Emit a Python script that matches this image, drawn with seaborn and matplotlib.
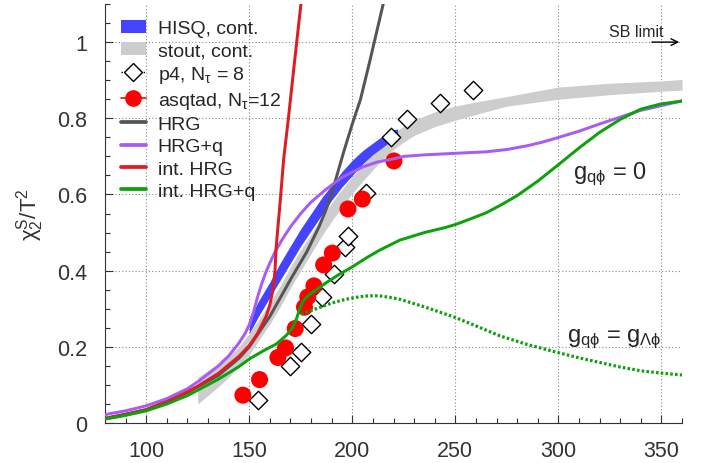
import matplotlib
matplotlib.use("Agg")
import matplotlib.pyplot as plt
import seaborn as sns
import pandas as pd
from matplotlib.lines import Line2D
from matplotlib.patches import Patch
from matplotlib.ticker import MultipleLocator

# ---------------- data ----------------
hisq_T  = [150, 155, 160, 165, 170, 175, 180, 185, 190, 195, 200, 205, 210, 215, 220, 222]
hisq_lo = [0.235, 0.285, 0.33, 0.375, 0.42, 0.465, 0.505, 0.545, 0.585, 0.62, 0.65, 0.68, 0.705, 0.725, 0.745, 0.752]
hisq_hi = [0.275, 0.325, 0.37, 0.42, 0.465, 0.51, 0.55, 0.59, 0.625, 0.66, 0.69, 0.715, 0.735, 0.755, 0.77, 0.772]

stout_T  = [125, 135, 140, 145, 150, 155, 160, 165, 170, 175, 180, 185, 190, 195, 200, 205, 210,
            215, 220, 225, 230, 240, 250, 260, 275, 300, 325, 350, 360]
stout_lo = [0.05, 0.095, 0.12, 0.15, 0.18, 0.22, 0.26, 0.305, 0.355, 0.40, 0.445, 0.49, 0.53, 0.568,
            0.603, 0.635, 0.665, 0.693, 0.718, 0.738, 0.755, 0.778, 0.795, 0.81, 0.832, 0.85, 0.862, 0.871, 0.874]
stout_hi = [0.12, 0.155, 0.175, 0.20, 0.235, 0.275, 0.315, 0.36, 0.41, 0.455, 0.495, 0.54, 0.578, 0.613,
            0.647, 0.678, 0.707, 0.735, 0.76, 0.78, 0.795, 0.817, 0.832, 0.843, 0.857, 0.882, 0.892, 0.898, 0.902]

p4_T = [154.2, 169.6, 174.9, 179.8, 185.4, 191.0, 196.3, 197.9, 206.5, 218.9, 226.7, 242.7, 258.5]
p4_v = [0.061, 0.149, 0.186, 0.26, 0.33, 0.39, 0.461, 0.49, 0.605, 0.75, 0.798, 0.84, 0.874]

asq_T = [146.9, 155.0, 163.9, 167.6, 172.3, 176.8, 178.4, 181.4, 186.1, 190.3, 197.9, 204.9, 220.2]
asq_v = [0.073, 0.114, 0.172, 0.197, 0.248, 0.304, 0.331, 0.36, 0.415, 0.446, 0.562, 0.588, 0.688]

hrg_T = [80, 100, 120, 135, 145, 150, 160, 171, 178, 184, 188, 192, 196, 200, 204, 208.5, 215]
hrg_v = [0.012, 0.035, 0.08, 0.125, 0.17, 0.2, 0.28, 0.386, 0.45, 0.517, 0.57, 0.64, 0.715, 0.785,
         0.85, 0.95, 1.1]

hrgq_T = [80, 90, 100, 110, 120, 126, 135, 140, 145, 148, 150, 152, 154, 156, 158, 160, 162.3, 166, 170,
          175, 180, 187.4, 195, 205, 212, 219.7, 225, 235, 250, 265, 275, 285, 292, 299, 310, 320, 330,
          339.4, 350, 360]
hrgq_v = [0.022, 0.032, 0.045, 0.064, 0.09, 0.112, 0.15, 0.176, 0.21, 0.235, 0.258, 0.29, 0.33, 0.365,
          0.395, 0.42, 0.447, 0.482, 0.515, 0.55, 0.58, 0.614, 0.645, 0.672, 0.685, 0.693, 0.70, 0.704,
          0.708, 0.712, 0.718, 0.728, 0.737, 0.748, 0.766, 0.785, 0.803, 0.82, 0.833, 0.846]

ihrg_T = [80, 90, 100, 110, 120, 126, 135, 145, 150, 154, 158.2, 160, 161.5, 162.5, 163, 164, 165, 166.7,
          169, 172, 175.5]
ihrg_v = [0.012, 0.022, 0.035, 0.055, 0.082, 0.1, 0.13, 0.175, 0.203, 0.235, 0.28, 0.31, 0.35, 0.40,
          0.457, 0.52, 0.58, 0.693, 0.80, 0.95, 1.12]

ihrgq_T = [80, 90, 100, 110, 120, 126, 135, 145, 150, 157, 163, 168, 171, 173, 174.5, 176, 178, 182, 187,
           193, 200, 207, 213, 223, 235, 245, 250, 257, 265, 272, 280, 290, 300, 310, 320, 330, 340, 350, 360]
ihrgq_v = [0.010, 0.02, 0.032, 0.05, 0.072, 0.089, 0.115, 0.148, 0.168, 0.19, 0.207, 0.23, 0.25, 0.275,
           0.30, 0.318, 0.332, 0.348, 0.367, 0.388, 0.41, 0.434, 0.453, 0.48, 0.5, 0.513, 0.521, 0.535,
           0.552, 0.572, 0.597, 0.635, 0.678, 0.722, 0.763, 0.797, 0.824, 0.838, 0.845]

gl_T = [175.2, 180, 184, 190, 197, 203, 208, 213, 218, 223, 235, 250, 260, 271.5, 285, 299, 310, 320,
        330, 340, 350, 360]
gl_v = [0.285, 0.295, 0.303, 0.315, 0.325, 0.331, 0.334, 0.334, 0.33, 0.325, 0.305, 0.277, 0.255, 0.229,
        0.206, 0.186, 0.171, 0.159, 0.147, 0.137, 0.131, 0.126]

x_ticks = [100, 150, 200, 250, 300, 350]
y_ticks = [0, 0.2, 0.4, 0.6, 0.8, 1.0]
y_tick_labels = ["0", "0.2", "0.4", "0.6", "0.8", "1"]

legend_labels = ["HISQ, cont.", "stout, cont.", r"p4, N$_{\mathrm{\tau}}$ = 8",
                 r"asqtad, N$_{\mathrm{\tau}}$=12", "HRG", "HRG+q", "int. HRG", "int. HRG+q"]

# ---------------- style ----------------
sns.set_theme(style="ticks")
plt.rcParams["font.family"] = ["Liberation Sans", "DejaVu Sans"]
plt.rcParams["mathtext.fontset"] = "custom"
plt.rcParams["mathtext.rm"] = "Liberation Sans"
plt.rcParams["mathtext.it"] = "Liberation Sans:italic"
plt.rcParams["mathtext.sf"] = "Liberation Sans"

C_BLUE = "#4444ff"
C_GRAY = "#cdcdcd"
C_HRG = "#555555"
C_HRGQ = "#a95cf5"
C_IHRG = "#dd1c24"
C_IHRGQ = "#0ba20b"
C_PT = "#ff0000"

fig = plt.figure(figsize=(7.01, 4.64), dpi=100)
ax = fig.add_axes([0.1498, 0.0862, 0.8231, 0.9030])

ax.grid(True, which="major", color="#8a8a8a", linestyle=(0, (1, 2)), linewidth=0.8)
ax.set_axisbelow(True)

# bands
ax.fill_between(stout_T, stout_lo, stout_hi, color=C_GRAY, lw=0, zorder=1)
ax.fill_between(hisq_T, hisq_lo, hisq_hi, color=C_BLUE, lw=0, zorder=2)

# points
sns.scatterplot(x=p4_T, y=p4_v, marker="D", s=88, color="white", edgecolor="black",
                linewidth=1.0, zorder=3, ax=ax, legend=False)
sns.scatterplot(x=asq_T, y=asq_v, marker="o", s=150, color=C_PT, edgecolor="none",
                zorder=3.5, ax=ax, legend=False)

# curves
lw = 2.15
for T, v, c in [(hrg_T, hrg_v, C_HRG), (hrgq_T, hrgq_v, C_HRGQ),
                (ihrg_T, ihrg_v, C_IHRG), (ihrgq_T, ihrgq_v, C_IHRGQ)]:
    sns.lineplot(x=T, y=v, color=c, lw=lw, estimator=None, sort=False, ax=ax, zorder=4)
sns.lineplot(x=gl_T, y=gl_v, color=C_IHRGQ, lw=2.3, estimator=None, sort=False, ax=ax,
             zorder=4, linestyle=(0, (0.8, 0.7)))

# axes
ax.set_xlim(80, 360)
ax.set_ylim(0, 1.1)
ax.set_xticks(x_ticks)
ax.set_yticks(y_ticks)
ax.set_yticklabels(y_tick_labels)
ax.xaxis.set_minor_locator(MultipleLocator(10))
ax.yaxis.set_minor_locator(MultipleLocator(0.05))
ax.tick_params(which="major", direction="in", length=6, width=0.8, color="#333333",
               labelsize=15.5, labelcolor="#333333")
ax.tick_params(axis="x", which="major", pad=12)
ax.tick_params(axis="y", which="major", pad=13)
ax.tick_params(which="minor", direction="in", length=3.5, width=0.8, color="#333333")
sns.despine(ax=ax)
for s in ["left", "bottom"]:
    ax.spines[s].set_color("#333333")
    ax.spines[s].set_linewidth(0.8)
ax.set_xlabel("")
ax.set_ylabel(r"$\mathrm{\chi_2^S/T^2}$", fontsize=16, color="#333333", labelpad=8)

# annotations
ax.text(307, 0.655, r"$\mathrm{g_{q\phi}}$ = 0", fontsize=17, ha="left", va="center")
ax.text(304, 0.223, r"$\mathrm{g_{q\phi}}$ = $\mathrm{g_{\Lambda\phi}}$", fontsize=17,
        ha="left", va="center")
ax.text(338, 1.027, "SB limit", fontsize=11.5, ha="center", va="center")
ax.annotate("", xy=(360, 1.0), xytext=(344, 1.0),
            arrowprops=dict(arrowstyle="->", color="black", lw=1.0), annotation_clip=False)

# legend
handles = [
    Patch(facecolor=C_BLUE, edgecolor="none"),
    Patch(facecolor=C_GRAY, edgecolor="none"),
    Line2D([], [], color="black", ls=":", lw=1.0, marker="D", ms=9, mfc="white", mec="black"),
    Line2D([], [], color=C_PT, ls="-", lw=1.2, marker="o", ms=12, mfc=C_PT, mec="none"),
    Line2D([], [], color=C_HRG, lw=2.7),
    Line2D([], [], color=C_HRGQ, lw=2.7),
    Line2D([], [], color=C_IHRG, lw=2.7),
    Line2D([], [], color=C_IHRGQ, lw=2.7),
]
ax.legend(handles, legend_labels, loc="upper left", frameon=False, fontsize=14,
          handlelength=1.3, handletextpad=0.6, labelspacing=0.24,
          borderaxespad=0.55, borderpad=0.25)

fig.savefig("out.png", dpi=100)
